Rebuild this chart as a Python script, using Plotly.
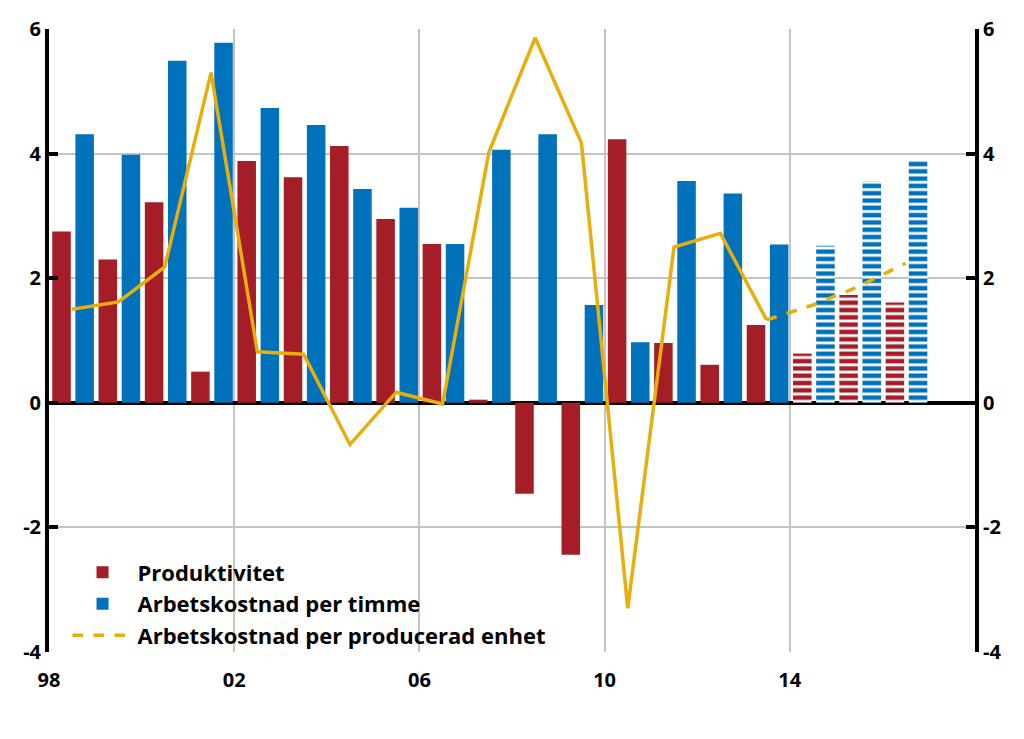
import plotly.graph_objects as go

# ---- data ----
years = list(range(1998, 2017))
produktivitet = [2.75, 2.3, 3.22, 0.5, 3.88, 3.62, 4.12, 2.95, 2.55, 0.05,
                 -1.46, -2.44, 4.23, 0.96, 0.61, 1.25, 0.79, 1.73, 1.61]
timme = [4.31, 3.98, 5.49, 5.78, 4.73, 4.46, 3.43, 3.13, 2.55, 4.06,
         4.31, 1.57, 0.97, 3.56, 3.36, 2.54, 2.52, 3.56, 3.88]
n_forecast = 3  # last three years are forecasts (hatched)

ulc_years = list(range(1998, 2014))
ulc = [1.5, 1.62, 2.18, 5.3, 0.82, 0.78, -0.67, 0.17, -0.02, 4.02,
       5.86, 4.17, -3.3, 2.5, 2.72, 1.33]
ulc_fc_years = [2013, 2014, 2015, 2016]
ulc_fc = [1.33, 1.57, 1.87, 2.24]

xtick_vals = [1998, 2002, 2006, 2010, 2014]
xtick_text = ["98", "02", "06", "10", "14"]
ytick_vals = [-4, -2, 0, 2, 4, 6]
ytick_text = ["-4", "-2", "0", "2", "4", "6"]

RED = "#A51D27"
BLUE = "#0071BB"
GOLD = "#E7AE0C"
FONT = "Open Sans"

n_hist = len(years) - n_forecast
hist_years = years[:n_hist]
fc_years = years[n_hist:]

fig = go.Figure()

fig.add_trace(go.Bar(
    x=[y + 0.27 for y in hist_years], y=produktivitet[:n_hist], width=0.4,
    marker=dict(color=RED, line=dict(width=0)), name="Produktivitet"))
fig.add_trace(go.Bar(
    x=[y + 0.77 for y in hist_years], y=timme[:n_hist], width=0.4,
    marker=dict(color=BLUE, line=dict(width=0)), name="Arbetskostnad per timme"))
fig.add_trace(go.Bar(
    x=[y + 0.27 for y in fc_years], y=produktivitet[n_hist:], width=0.4,
    marker=dict(color=RED, line=dict(width=0),
                pattern=dict(shape="-", fgcolor=RED, bgcolor="white",
                             size=7.3, solidity=0.62, fillmode="replace")),
    showlegend=False))
fig.add_trace(go.Bar(
    x=[y + 0.77 for y in fc_years], y=timme[n_hist:], width=0.4,
    marker=dict(color=BLUE, line=dict(width=0),
                pattern=dict(shape="-", fgcolor=BLUE, bgcolor="white",
                             size=7.3, solidity=0.62, fillmode="replace")),
    showlegend=False))

fig.add_trace(go.Scatter(
    x=[y + 0.5 for y in ulc_years], y=ulc, mode="lines",
    line=dict(color=GOLD, width=3.5), showlegend=False, yaxis="y2"))
fig.add_trace(go.Scatter(
    x=[y + 0.5 for y in ulc_fc_years], y=ulc_fc, mode="lines",
    line=dict(color=GOLD, width=3.5, dash="dash"),
    name="Arbetskostnad per producerad enhet", yaxis="y2"))

tickfont = dict(family=FONT, size=20, color="black", weight="bold")

fig.update_layout(
    width=1024, height=739,
    margin=dict(l=41, r=57, t=21, b=95, autoexpand=False),
    paper_bgcolor="white", plot_bgcolor="white",
    barmode="overlay",
    showlegend=True,
    legend=dict(x=0.02, y=-0.007, xanchor="left", yanchor="bottom",
                bgcolor="rgba(0,0,0,0)", tracegroupgap=0, itemwidth=60,
                font=dict(family=FONT, size=22, color="black", weight="bold")),
    xaxis=dict(range=[1998, 2018], tickvals=xtick_vals, ticktext=xtick_text,
               showgrid=True, gridcolor="#C4C4C4", gridwidth=1.5,
               showline=False, zeroline=False, ticks="", automargin=False,
               ticklabelstandoff=14,
               tickfont=tickfont),
    yaxis=dict(range=[-4, 6], tickvals=ytick_vals, ticktext=ytick_text,
               showgrid=True, gridcolor="#C4C4C4", gridwidth=1.5,
               zeroline=True, zerolinecolor="black", zerolinewidth=3.5,
               showline=True, linecolor="black", linewidth=4, automargin=False,
               ticks="inside", ticklen=9, tickwidth=4, tickcolor="black",
               tickfont=tickfont),
    yaxis2=dict(range=[-4, 6], tickvals=ytick_vals, ticktext=ytick_text,
                overlaying="y", side="right", automargin=False,
                showgrid=False, zeroline=False,
                showline=True, linecolor="black", linewidth=4,
                ticks="inside", ticklen=9, tickwidth=4, tickcolor="black",
                tickfont=tickfont),
)

fig.write_html("out.html")
